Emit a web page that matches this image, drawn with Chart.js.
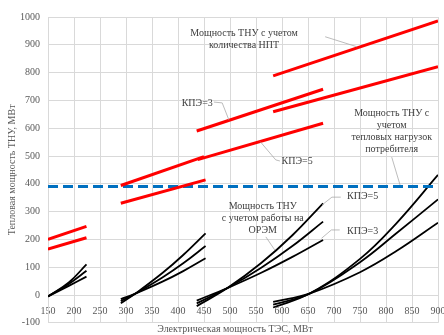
<!DOCTYPE html>
<html><head><meta charset="utf-8">
<script src="https://cdn.jsdelivr.net/npm/chart.js@4/dist/chart.umd.min.js"></script>
<style>html,body{margin:0;padding:0;background:#fff}canvas{display:block}</style>
</head><body>
<canvas id="c" width="444" height="335"></canvas>
<script>
// ---- axis ranges / ticks ----
const xRange = [150, 900];
const xStep = 50;
const yRange = [-100, 1000];
const yStep = 100;

// ---- red lines (heat pump capacity, KPE=3 upper / KPE=5 lower) ----
const red1X = [150, 224];   const red1K3 = [200, 247];  const red1K5 = [165, 206];
const red2K3X = [290, 450]; const red2K3 = [394, 498];
const red2K5X = [290, 453]; const red2K5 = [330, 414];
const red3K3X = [436, 679]; const red3K3 = [590, 740];
const red3K5X = [438, 679]; const red3K5 = [487, 618];
const red4X = [583, 900];   const red4K3 = [788, 986];  const red4K5 = [659, 821];

// ---- consumer heat load (blue dashed) ----
const blueX = [150, 900];
const blueY = [390, 390];

// ---- black curves (work on wholesale market) ----
const blk1X = [150, 190, 224];
const blk1A = [-5, 45, 110];
const blk1B = [-5, 40, 87];
const blk1C = [-5, 33, 66];

const blk2X = [290, 318, 370, 410, 453];
const blk2A = [-30, 5, 79, 144, 222];
const blk2B = [-22, 5, 63, 114, 176];
const blk2C = [-15, 5, 48, 86, 132];

const blk3X = [436, 495, 560, 620, 679];
const blk3A = [-40, 25, 115, 215, 330];
const blk3B = [-30, 25, 98, 176, 264];
const blk3C = [-20, 25, 80, 137, 198];

const blk4X = [583, 654, 750, 820, 900];
const blk4A = [-45, 6, 130, 258, 432];
const blk4B = [-35, 6, 118, 222, 344];
const blk4C = [-25, 6, 82, 158, 260];

// ---- texts ----
const xTitle = 'Электрическая мощность ТЭС, МВт';
const yTitle = 'Тепловая мощность ТНУ, МВт';
// annotations: lines of text, anchor (data coords of first line centre), leader polyline (data coords)
const notes = [
  {lines: ['Мощность ТНУ с учетом', 'количества НПТ'], at: [527, 942], leader: [[683, 929], [744, 893]]},
  {lines: ['КПЭ=3'], at: [437, 691], leader: [[469, 694], [485, 691], [498, 629]]},
  {lines: ['КПЭ=5'], at: [629, 480], leader: [[596, 482], [588, 486], [558, 552]]},
  {lines: ['Мощность ТНУ с', 'учетом', 'тепловых нагрузок', 'потребителя'], at: [811, 655], leader: [[811, 496], [827, 396]]},
  {lines: ['Мощность ТНУ', 'с учетом работы на', 'ОРЭМ'], at: [563, 318], leader: [[569, 209], [586, 162]]},
  {lines: ['КПЭ=5'], at: [755, 354], leader: [[713, 352], [696, 352], [677, 324]]},
  {lines: ['КПЭ=3'], at: [755, 228], leader: [[711, 234], [695, 234], [676, 204]]}
];

const FONT = '"Liberation Serif", "Times New Roman", serif';

function pts(xs, ys) { return xs.map((x, i) => ({x: x, y: ys[i]})); }
function red(xs, ys) {
  return {data: pts(xs, ys), borderColor: '#FF0000', borderWidth: 3, pointRadius: 0, borderCapStyle: 'butt'};
}
function blk(xs, ys) {
  return {data: pts(xs, ys), borderColor: '#000000', borderWidth: 1.8, pointRadius: 0, tension: 0.4};
}

const datasets = [
  red(red1X, red1K3), red(red1X, red1K5),
  red(red2K3X, red2K3), red(red2K5X, red2K5),
  red(red3K3X, red3K3), red(red3K5X, red3K5),
  red(red4X, red4K3), red(red4X, red4K5),
  {data: pts(blueX, blueY), borderColor: '#0070C0', borderWidth: 3, borderDash: [10, 5], pointRadius: 0, borderCapStyle: 'butt'},
  blk(blk1X, blk1A), blk(blk1X, blk1B), blk(blk1X, blk1C),
  blk(blk2X, blk2A), blk(blk2X, blk2B), blk(blk2X, blk2C),
  blk(blk3X, blk3A), blk(blk3X, blk3B), blk(blk3X, blk3C),
  blk(blk4X, blk4A), blk(blk4X, blk4B), blk(blk4X, blk4C)
];

const textPlugin = {
  id: 'texts',
  afterDraw(chart) {
    const ctx = chart.ctx, xs = chart.scales.x, ys = chart.scales.y, ca = chart.chartArea;
    ctx.save();
    // leaders
    ctx.strokeStyle = '#A6A6A6';
    ctx.lineWidth = 0.75;
    notes.forEach(n => {
      ctx.beginPath();
      n.leader.forEach((p, i) => {
        const px = xs.getPixelForValue(p[0]), py = ys.getPixelForValue(p[1]);
        if (i === 0) ctx.moveTo(px, py); else ctx.lineTo(px, py);
      });
      ctx.stroke();
    });
    // note texts
    ctx.fillStyle = '#404040';
    ctx.font = '10px ' + FONT;
    ctx.textAlign = 'center';
    ctx.textBaseline = 'middle';
    notes.forEach(n => {
      const px = xs.getPixelForValue(n.at[0]), py = ys.getPixelForValue(n.at[1]);
      n.lines.forEach((t, i) => ctx.fillText(t, px, py + i * 12));
    });
    // axis titles
    ctx.fillStyle = '#595959';
    ctx.fillText(xTitle, (ca.left + ca.right) / 2 - 8, chart.height - 6);
    ctx.translate(12, (ca.top + ca.bottom) / 2);
    ctx.rotate(-Math.PI / 2);
    ctx.fillText(yTitle, 0, 0);
    ctx.restore();
  }
};

new Chart(document.getElementById('c'), {
  type: 'line',
  data: {datasets: datasets},
  options: {
    responsive: false,
    animation: false,
    devicePixelRatio: 1,
    layout: {padding: {left: 0, right: 6, top: 17, bottom: 12.2}},
    plugins: {legend: {display: false}, tooltip: {enabled: false}},
    scales: {
      x: {
        type: 'linear', min: xRange[0], max: xRange[1], position: {y: 0},
        ticks: {stepSize: xStep, autoSkip: false, maxRotation: 0, padding: 10, color: '#595959', font: {family: FONT, size: 10},
                callback: v => String(v)},
        grid: {color: '#D9D9D9', drawTicks: false, lineWidth: 1},
        border: {color: '#D9D9D9'},
        afterFit(s) { s.paddingLeft = 0; s.paddingRight = 0; }
      },
      y: {
        type: 'linear', min: yRange[0], max: yRange[1],
        ticks: {stepSize: yStep, padding: 8, color: '#595959', font: {family: FONT, size: 10},
                callback: v => String(v)},
        grid: {color: '#D9D9D9', drawTicks: false, lineWidth: 1},
        border: {color: '#D9D9D9'},
        afterFit(s) { s.width = 48; s.paddingTop = 0; s.paddingBottom = 0; }
      }
    }
  },
  plugins: [textPlugin]
});
</script>
</body></html>
